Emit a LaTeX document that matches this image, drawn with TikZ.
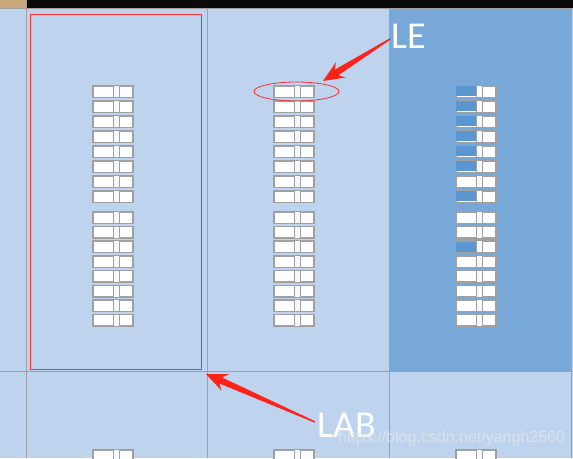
\documentclass[tikz,border=0pt]{standalone}
\usepackage{fontspec}
\setmainfont{Liberation Sans}
\newfontfamily\labelfont{Carlito}
\usetikzlibrary{calc,shapes.geometric}

\definecolor{lightcell}{HTML}{BDD3EE}
\definecolor{darkcol}{HTML}{78A8D8}
\definecolor{gridgrey}{HTML}{A0A0A0}
\definecolor{cellgrey}{HTML}{A0A0A0}
\definecolor{stripwhite}{HTML}{F5F8FF}
\definecolor{lutblue}{HTML}{5A96D2}
\definecolor{topbar}{HTML}{0A0A0A}
\definecolor{tanbar}{HTML}{C9A87C}
\definecolor{arrowred}{HTML}{FF2218}
\definecolor{boxred}{HTML}{FF3030}
\definecolor{markgrey}{HTML}{DCE2EA}

% tapered screenshot arrow, from #1 to #2
\newcommand\shotarrow[2]{%
  \coordinate (ar-j) at ($(#2)!16pt!(#1)$);
  \coordinate (ar-b) at ($(#2)!21pt!(#1)$);
  \fill[arrowred] ($(#1)!0.7pt!90:(#2)$) -- ($(ar-j)!3.3pt!90:(#2)$)
    -- ($(ar-b)!9pt!90:(#2)$) -- (#2) -- ($(ar-b)!9pt!-90:(#2)$)
    -- ($(ar-j)!3.3pt!-90:(#2)$) -- ($(#1)!0.7pt!-90:(#2)$) -- cycle;}

\begin{document}
\begin{tikzpicture}
  [x=1pt,y=-1pt,
   lecell/.style={rectangle,fill=cellgrey,minimum width=42pt,minimum height=13pt,
     inner sep=0pt,path picture={
       \fill[white] ([shift={(1.5pt,-1.5pt)}]path picture bounding box.north west) rectangle ++(19.5pt,-10pt);
       \fill[stripwhite] ([shift={(22pt,-1pt)}]path picture bounding box.north west) rectangle ++(4.5pt,-11pt);
       \fill[white] ([shift={(27.5pt,-1.5pt)}]path picture bounding box.north west) rectangle ++(12.5pt,-10pt);}},
   redbox/.style={rectangle,draw=boxred,line width=1pt,fill=none,inner sep=0pt},
   selring/.style={ellipse,draw=boxred,line width=0.8pt,inner sep=0pt},
   tag/.style={font=\labelfont\fontsize{38}{40}\selectfont,text=white,inner sep=0pt,anchor=base west}
  ]
  \useasboundingbox (0,0) rectangle (573,458);
  \clip (0,0) rectangle (573,458);

  % cells of the chip view
  \fill[lightcell] (0,0) rectangle (573,458);
  \fill[darkcol] (389.5,8.5) rectangle (570.5,370.5);
  \draw[gridgrey,line width=1pt] (0,8) -- (573,8) (0,371) -- (573,371);
  \foreach \gx in {26,207,389,571}
    \draw[gridgrey,line width=1pt] (\gx,0) -- (\gx,458);
  \fill[tanbar] (0,0) rectangle (26,7.5);
  \fill[topbar] (26.5,0) rectangle (573,7.5);

  % logic elements
  \foreach \cx [count=\c] in {92,273,455}{
    \foreach \r in {0,...,7}{
      \node[lecell] (le-\c-a\r) at (\cx+21,85+15*\r+6.5) {};
      \node[lecell] (le-\c-b\r) at (\cx+21,211+14.7*\r+6.5) {};
    }
    \node[lecell] (le-\c-c0) at (\cx+21,449+6.5) {};
  }
  \foreach \n in {a0,a1,a2,a3,a4,a5,a7,b2}
    \fill[lutblue] ([shift={(1.5pt,-1.5pt)}]le-3-\n.north west) rectangle ++(19.5pt,-10pt);

  % marks
  \node[redbox,minimum width=171pt,minimum height=355pt] (labbox) at (116,192) {};
  \node[selring,minimum width=85pt,minimum height=19pt] (sel) at (296.5,91.5) {};

  \node[tag] (le) at (391,48) {LE};
  \node[tag] (lab) at (317,437) {LAB};

  \coordinate (le-tail) at (390,39);
  \coordinate (le-tip) at (323,81);
  \coordinate (lab-tail) at (315,422);
  \coordinate (lab-tip) at ($(labbox.south east)+(4,4)$);
  \shotarrow{le-tail}{le-tip}
  \shotarrow{lab-tail}{lab-tip}

  \node[font=\fontsize{16}{18}\selectfont,text=markgrey,inner sep=0pt,anchor=base west]
    (mark) at (338,442.5) {https://blog.csdn.net/yangh2560};
\end{tikzpicture}
\end{document}
